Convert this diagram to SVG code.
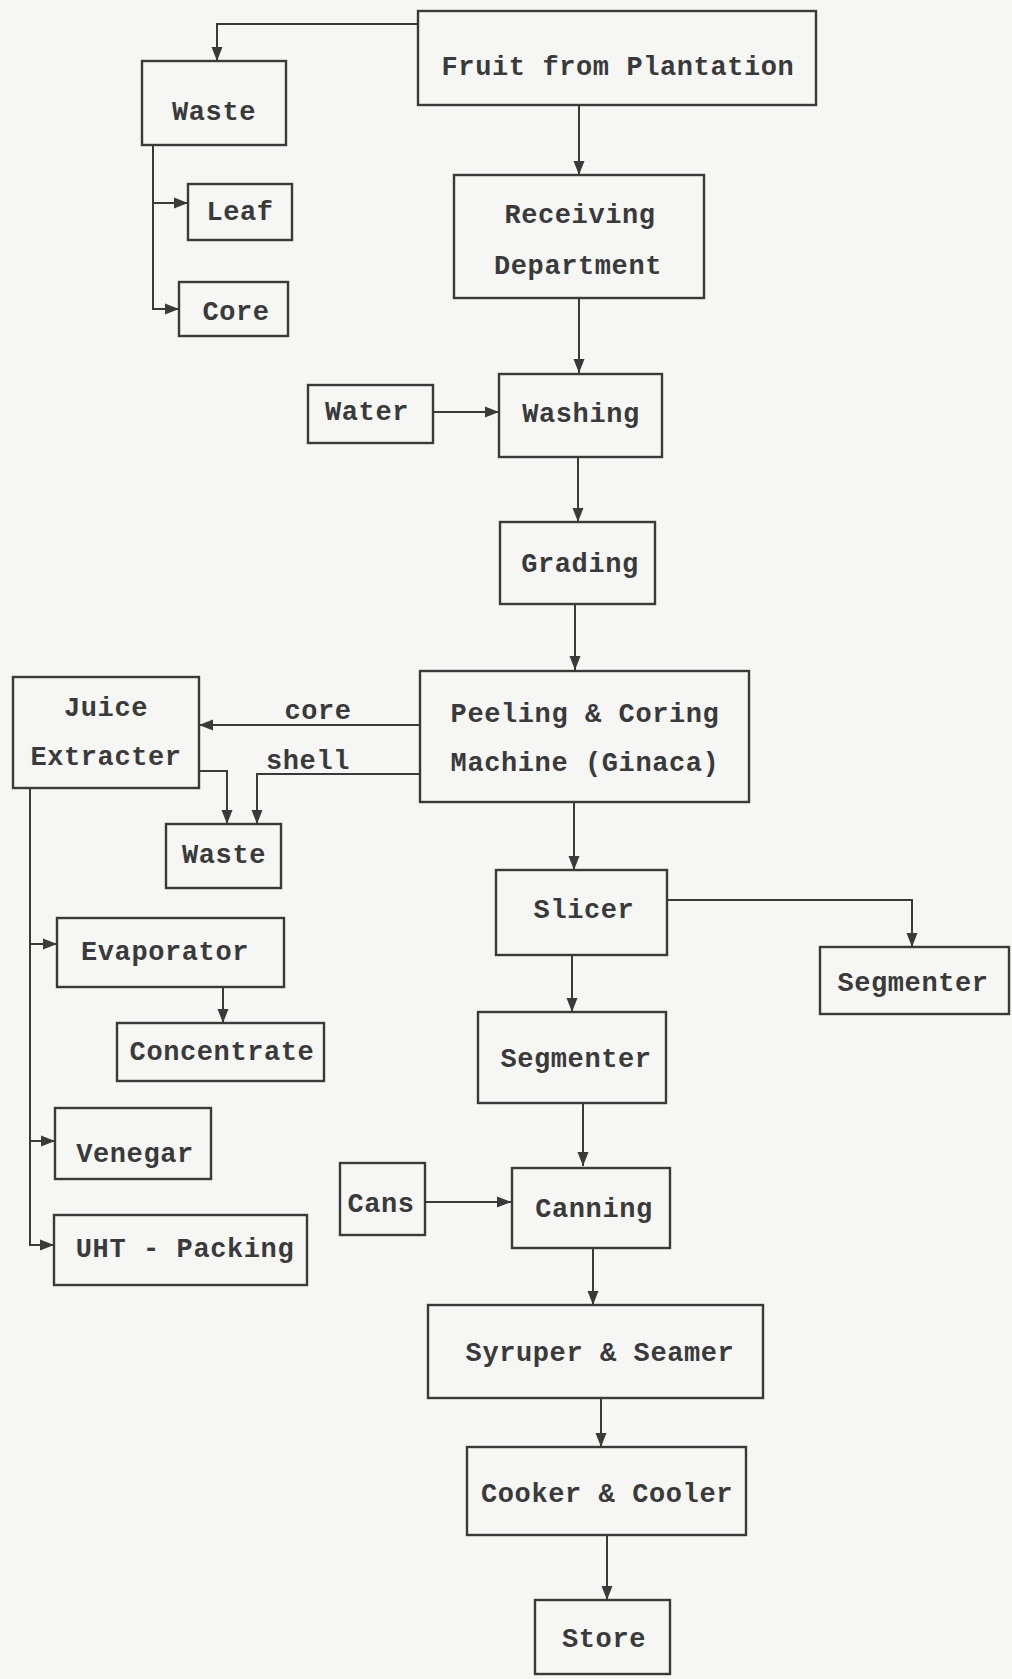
<svg xmlns="http://www.w3.org/2000/svg" width="1012" height="1679" viewBox="0 0 1012 1679">
<defs>
<marker id="ah" markerUnits="userSpaceOnUse" markerWidth="16" markerHeight="14" refX="14" refY="7" orient="auto">
<path d="M0,1.5 L14,7 L0,12.5 Z" fill="#3a3a3a"/>
</marker>
<style>
.box{fill:none;stroke:#3a3a3a;stroke-width:2.4}
.t{font-family:"Liberation Mono","DejaVu Sans Mono",monospace;font-size:27px;font-weight:bold;fill:#3a3a3a;text-anchor:middle;letter-spacing:0.6px}
.c{fill:none;stroke:#3a3a3a;stroke-width:2}
.a{marker-end:url(#ah)}
</style>
</defs>
<rect x="0" y="0" width="1012" height="1679" fill="#f6f6f4"/>
<g id="connectors">
<path class="c a" d="M418,24 H217 V61"/>
<path class="c a" d="M579,105 V175"/>
<path class="c a" d="M153,145 V203 H188"/>
<path class="c a" d="M153,203 V309 H179"/>
<path class="c a" d="M579,298 V373"/>
<path class="c a" d="M433,412 H499"/>
<path class="c a" d="M578,457 V522"/>
<path class="c a" d="M575,604 V670"/>
<path class="c a" d="M420,725 H199"/>
<path class="c a" d="M420,774 H257 V824"/>
<path class="c a" d="M199,771 H227 V824"/>
<path class="c a" d="M30,788 V944 H57"/>
<path class="c a" d="M30,944 V1141 H55"/>
<path class="c a" d="M30,1141 V1245 H54"/>
<path class="c a" d="M223,987 V1023"/>
<path class="c a" d="M574,802 V870"/>
<path class="c a" d="M667,900 H912 V947"/>
<path class="c a" d="M572,955 V1012"/>
<path class="c a" d="M583,1103 V1166"/>
<path class="c a" d="M425,1202 H511"/>
<path class="c a" d="M593,1248 V1305"/>
<path class="c a" d="M601,1398 V1447"/>
<path class="c a" d="M607,1535 V1600"/>
<text class="t" x="318" y="719">core</text>
<text class="t" x="308" y="769">shell</text>
</g>
<g id="fruit"><rect class="box" x="418" y="11" width="398" height="94"/><text class="t" x="618" y="75">Fruit from Plantation</text></g>
<g id="waste1"><rect class="box" x="142" y="61" width="144" height="84"/><text class="t" x="214" y="120">Waste</text></g>
<g id="leaf"><rect class="box" x="188" y="184" width="104" height="56"/><text class="t" x="240" y="220">Leaf</text></g>
<g id="core"><rect class="box" x="179" y="282" width="109" height="54"/><text class="t" x="236" y="320">Core</text></g>
<g id="receiving"><rect class="box" x="454" y="175" width="250" height="123"/><text class="t" x="580" y="223">Receiving</text><text class="t" x="578" y="274">Department</text></g>
<g id="water"><rect class="box" x="308" y="385" width="125" height="58"/><text class="t" x="367" y="420">Water</text></g>
<g id="washing"><rect class="box" x="499" y="374" width="163" height="83"/><text class="t" x="581" y="422">Washing</text></g>
<g id="grading"><rect class="box" x="500" y="522" width="155" height="82"/><text class="t" x="580" y="572">Grading</text></g>
<g id="peeling"><rect class="box" x="420" y="671" width="329" height="131"/><text class="t" x="585" y="722">Peeling &amp; Coring</text><text class="t" x="585" y="771">Machine (Ginaca)</text></g>
<g id="juice"><rect class="box" x="13" y="677" width="186" height="111"/><text class="t" x="106" y="716">Juice</text><text class="t" x="106" y="765">Extracter</text></g>
<g id="waste2"><rect class="box" x="166" y="824" width="115" height="64"/><text class="t" x="224" y="863">Waste</text></g>
<g id="evaporator"><rect class="box" x="57" y="918" width="227" height="69"/><text class="t" x="165" y="960">Evaporator</text></g>
<g id="concentrate"><rect class="box" x="117" y="1023" width="207" height="58"/><text class="t" x="222" y="1060">Concentrate</text></g>
<g id="venegar"><rect class="box" x="55" y="1108" width="156" height="71"/><text class="t" x="135" y="1162">Venegar</text></g>
<g id="uht"><rect class="box" x="54" y="1215" width="253" height="70"/><text class="t" x="185" y="1257">UHT - Packing</text></g>
<g id="slicer"><rect class="box" x="496" y="870" width="171" height="85"/><text class="t" x="584" y="918">Slicer</text></g>
<g id="segmenter2"><rect class="box" x="820" y="947" width="189" height="67"/><text class="t" x="913" y="991">Segmenter</text></g>
<g id="segmenter1"><rect class="box" x="478" y="1012" width="188" height="91"/><text class="t" x="576" y="1067">Segmenter</text></g>
<g id="cans"><rect class="box" x="340" y="1163" width="85" height="72"/><text class="t" x="381" y="1212">Cans</text></g>
<g id="canning"><rect class="box" x="512" y="1168" width="158" height="80"/><text class="t" x="594" y="1217">Canning</text></g>
<g id="syruper"><rect class="box" x="428" y="1305" width="335" height="93"/><text class="t" x="600" y="1361">Syruper &amp; Seamer</text></g>
<g id="cooker"><rect class="box" x="467" y="1447" width="279" height="88"/><text class="t" x="607" y="1502">Cooker &amp; Cooler</text></g>
<g id="store"><rect class="box" x="535" y="1600" width="135" height="74"/><text class="t" x="604" y="1647">Store</text></g>
</svg>
